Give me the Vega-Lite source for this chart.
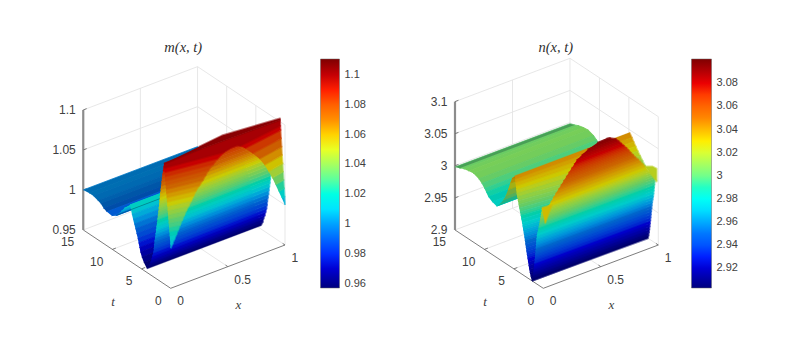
{"$schema":"https://vega.github.io/schema/vega-lite/v6.json","width":802,"height":351,"padding":0,"autosize":{"type":"fit","contains":"padding"},"background":"white","config":{"view":{"stroke":null}},
"data":{"values":[
{"p":"m","g":"grid","i":201,"x":[0,1,1],"t":[15,15,0],"z":[0.95,0.95,0.95]},
{"p":"m","g":"grid","i":202,"x":[0,1,1],"t":[15,15,0],"z":[1,1,1]},
{"p":"m","g":"grid","i":203,"x":[0,1,1],"t":[15,15,0],"z":[1.05,1.05,1.05]},
{"p":"m","g":"grid","i":204,"x":[0,1,1],"t":[15,15,0],"z":[1.1,1.1,1.1]},
{"p":"m","g":"grid","i":205,"x":[0.5,0.5],"t":[15,15],"z":[0.95,1.1]},
{"p":"m","g":"grid","i":206,"x":[1,1],"t":[15,15],"z":[0.95,1.1]},
{"p":"m","g":"grid","i":207,"x":[1,1],"t":[10,10],"z":[0.95,1.1]},
{"p":"m","g":"grid","i":208,"x":[1,1],"t":[5,5],"z":[0.95,1.1]},
{"p":"m","g":"grid","i":209,"x":[1,1],"t":[0,0],"z":[0.95,1.1]},
{"p":"m","g":"grid","i":210,"x":[0.5,0.5],"t":[0,15],"z":[0.95,0.95]},
{"p":"m","g":"grid","i":211,"x":[0,1],"t":[5,5],"z":[0.95,0.95]},
{"p":"m","g":"grid","i":212,"x":[0,1],"t":[10,10],"z":[0.95,0.95]},
{"p":"n","g":"grid","i":221,"x":[0,1,1],"t":[15,15,0],"z":[2.9,2.9,2.9]},
{"p":"n","g":"grid","i":222,"x":[0,1,1],"t":[15,15,0],"z":[2.95,2.95,2.95]},
{"p":"n","g":"grid","i":223,"x":[0,1,1],"t":[15,15,0],"z":[3,3,3]},
{"p":"n","g":"grid","i":224,"x":[0,1,1],"t":[15,15,0],"z":[3.05,3.05,3.05]},
{"p":"n","g":"grid","i":225,"x":[0,1,1],"t":[15,15,0],"z":[3.1,3.1,3.1]},
{"p":"n","g":"grid","i":226,"x":[0.5,0.5],"t":[15,15],"z":[2.9,3.1]},
{"p":"n","g":"grid","i":227,"x":[1,1],"t":[15,15],"z":[2.9,3.1]},
{"p":"n","g":"grid","i":228,"x":[1,1],"t":[10,10],"z":[2.9,3.1]},
{"p":"n","g":"grid","i":229,"x":[1,1],"t":[5,5],"z":[2.9,3.1]},
{"p":"n","g":"grid","i":230,"x":[1,1],"t":[0,0],"z":[2.9,3.1]},
{"p":"n","g":"grid","i":231,"x":[0.5,0.5],"t":[0,15],"z":[2.9,2.9]},
{"p":"n","g":"grid","i":232,"x":[0,1],"t":[5,5],"z":[2.9,2.9]},
{"p":"n","g":"grid","i":233,"x":[0,1],"t":[10,10],"z":[2.9,2.9]},
{"p":"m","g":"az","i":241,"x":[0,0],"t":[15,15],"z":[0.95,1.1]},
{"p":"n","g":"az","i":242,"x":[0,0],"t":[15,15],"z":[2.9,3.1]},
{"p":"m","g":"ax","i":251,"x":[0,1],"t":[0,0],"z":[0.95,0.95]},
{"p":"m","g":"ax","i":252,"x":[0,0],"t":[0,15],"z":[0.95,0.95]},
{"p":"m","g":"ax","i":253,"x":[0.5,0.5],"t":[0,0.4],"z":[0.95,0.95]},
{"p":"m","g":"ax","i":254,"x":[1,1],"t":[0,0.4],"z":[0.95,0.95]},
{"p":"m","g":"ax","i":255,"x":[0,0.03],"t":[5,5],"z":[0.95,0.95]},
{"p":"m","g":"ax","i":256,"x":[0,0.03],"t":[10,10],"z":[0.95,0.95]},
{"p":"m","g":"ax","i":257,"x":[0,0.03],"t":[15,15],"z":[1,1]},
{"p":"m","g":"ax","i":258,"x":[0,0.03],"t":[15,15],"z":[1.05,1.05]},
{"p":"m","g":"ax","i":259,"x":[0,0.03],"t":[15,15],"z":[1.1,1.1]},
{"p":"n","g":"ax","i":261,"x":[0,1],"t":[0,0],"z":[2.9,2.9]},
{"p":"n","g":"ax","i":262,"x":[0,0],"t":[0,15],"z":[2.9,2.9]},
{"p":"n","g":"ax","i":263,"x":[0.5,0.5],"t":[0,0.4],"z":[2.9,2.9]},
{"p":"n","g":"ax","i":264,"x":[1,1],"t":[0,0.4],"z":[2.9,2.9]},
{"p":"n","g":"ax","i":265,"x":[0,0.03],"t":[5,5],"z":[2.9,2.9]},
{"p":"n","g":"ax","i":266,"x":[0,0.03],"t":[10,10],"z":[2.9,2.9]},
{"p":"n","g":"ax","i":267,"x":[0,0.03],"t":[15,15],"z":[2.95,2.95]},
{"p":"n","g":"ax","i":268,"x":[0,0.03],"t":[15,15],"z":[3,3]},
{"p":"n","g":"ax","i":269,"x":[0,0.03],"t":[15,15],"z":[3.05,3.05]},
{"p":"n","g":"ax","i":270,"x":[0,0.03],"t":[15,15],"z":[3.1,3.1]},

{"p":"m","g":"b","i":1,"v":1.0005,"x":[0,1,1,0],"t":[15,15,14,14],"z":[1,1,1.001,1.001]},
{"p":"m","g":"b","i":2,"v":1.001,"x":[0,1,1,0],"t":[14,14,13.3,13.3],"z":[1.001,1.001,1.001,1.001]},
{"p":"m","g":"b","i":3,"v":1,"x":[0,1,1,0],"t":[13.3,13.3,12.5,12.5],"z":[1.001,1.001,0.999,0.999]},
{"p":"m","g":"b","i":4,"v":0.998,"x":[0,1,1,0],"t":[12.5,12.5,12,12],"z":[0.999,0.999,0.9975,0.9975]},
{"p":"m","g":"b","i":5,"v":0.996,"x":[0,1,1,0],"t":[12,12,11.5,11.5],"z":[0.9975,0.9975,0.994,0.994]},
{"p":"m","g":"b","i":6,"v":0.993,"x":[0,1,1,0],"t":[11.5,11.5,11,11],"z":[0.994,0.994,0.9925,0.9925]},
{"p":"m","g":"b","i":7,"v":0.992,"x":[0,1,1,0],"t":[11,11,10.1,10.1],"z":[0.9925,0.9925,0.9916,0.9916]},
{"p":"m","g":"b","i":8,"v":0.993,"x":[0,1,1,0],"t":[10.1,10.1,9.4,9.4],"z":[0.9916,0.9916,0.995,0.995]},
{"p":"m","g":"b","i":9,"v":0.9975,"x":[0,1,1,0],"t":[9.4,9.4,8.9,8.9],"z":[0.995,0.995,1,1]},
{"p":"m","g":"b","i":10,"v":1.0025,"x":[0,1,1,0],"t":[8.9,8.9,8.5,8.5],"z":[1,1,1.005,1.005]},
{"p":"m","g":"b","i":11,"v":1.008,"x":[0,1,1,0],"t":[8.5,8.5,8,8],"z":[1.005,1.005,1.011,1.011]},
{"p":"m","g":"b","i":12,"v":1.016,"x":[0,1,1,0],"t":[8,8,7,7],"z":[1.011,1.011,1.02,1.02]},
{"p":"m","g":"b","i":13,"v":1.0175,"x":[0,1,1,0],"t":[7,7,6.8,6.8],"z":[1.02,1.02,1.015,1.015]},
{"p":"m","g":"b","i":14,"v":1.0125,"x":[0,1,1,0],"t":[6.8,6.8,6.65,6.65],"z":[1.015,1.015,1.01,1.01]},
{"p":"m","g":"b","i":15,"v":1.0075,"x":[0,1,1,0],"t":[6.65,6.65,6.45,6.45],"z":[1.01,1.01,1.005,1.005]},
{"p":"m","g":"b","i":16,"v":1.0025,"x":[0,1,1,0],"t":[6.45,6.45,6.25,6.25],"z":[1.005,1.005,1,1]},
{"p":"m","g":"b","i":17,"v":0.9975,"x":[0,1,1,0],"t":[6.25,6.25,6.05,6.05],"z":[1,1,0.995,0.995]},
{"p":"m","g":"b","i":18,"v":0.9925,"x":[0,1,1,0],"t":[6.05,6.05,5.85,5.85],"z":[0.995,0.995,0.99,0.99]},
{"p":"m","g":"b","i":19,"v":0.9875,"x":[0,1,1,0],"t":[5.85,5.85,5.65,5.65],"z":[0.99,0.99,0.985,0.985]},
{"p":"m","g":"b","i":20,"v":0.9825,"x":[0,1,1,0],"t":[5.65,5.65,5.5,5.5],"z":[0.985,0.985,0.98,0.98]},
{"p":"m","g":"b","i":21,"v":0.9775,"x":[0,1,1,0],"t":[5.5,5.5,5.35,5.35],"z":[0.98,0.98,0.975,0.975]},
{"p":"m","g":"b","i":22,"v":0.9725,"x":[0,1,1,0],"t":[5.35,5.35,5.2,5.2],"z":[0.975,0.975,0.97,0.97]},
{"p":"m","g":"b","i":23,"v":0.9675,"x":[0,1,1,0],"t":[5.2,5.2,4.95,4.95],"z":[0.97,0.97,0.965,0.965]},
{"p":"m","g":"b","i":24,"v":0.9625,"x":[0,1,1,0],"t":[4.95,4.95,4.6,4.6],"z":[0.965,0.965,0.96,0.96]},
{"p":"m","g":"b","i":25,"v":0.9575,"x":[0,1,1,0],"t":[4.6,4.6,4.1,4.1],"z":[0.96,0.96,0.955,0.955]},

{"p":"m","g":"w","i":27,"v":0.9575,"x":[0,1,1,0],"t":[4.1,4.1,3.85,3.75],"z":[0.955,0.955,0.96,0.96]},
{"p":"m","g":"w","i":28,"v":0.9625,"x":[0,1,1,0],"t":[3.75,3.85,3.7,3.5],"z":[0.96,0.96,0.965,0.965]},
{"p":"m","g":"w","i":29,"v":0.9675,"x":[0,1,1,0],"t":[3.5,3.7,3.5,3.3],"z":[0.965,0.965,0.97,0.97]},
{"p":"m","g":"w","i":30,"v":0.9725,"x":[0,1,1,0],"t":[3.3,3.5,3.35,3.15],"z":[0.97,0.97,0.975,0.975]},
{"p":"m","g":"w","i":31,"v":0.9775,"x":[0,1,1,0],"t":[3.15,3.35,3.2,3],"z":[0.975,0.975,0.98,0.98]},
{"p":"m","g":"w","i":32,"v":0.9825,"x":[0,1,1,0],"t":[3,3.2,3.1,2.9],"z":[0.98,0.98,0.985,0.985]},
{"p":"m","g":"w","i":33,"v":0.9875,"x":[0,1,1,0],"t":[2.9,3.1,3.05,2.85],"z":[0.985,0.985,0.99,0.99]},
{"p":"m","g":"w","i":34,"v":0.9925,"x":[0,1,1,0],"t":[2.85,3.05,2.95,2.78],"z":[0.99,0.99,0.995,0.995]},
{"p":"m","g":"w","i":35,"v":0.9975,"x":[0,1,1,0],"t":[2.78,2.95,2.85,2.7],"z":[0.995,0.995,1,1]},
{"p":"m","g":"w","i":36,"v":1.0025,"x":[0,1,1,0],"t":[2.7,2.85,2.78,2.6],"z":[1,1,1.005,1.005]},
{"p":"m","g":"w","i":37,"v":1.0075,"x":[0,1,1,0],"t":[2.6,2.78,2.7,2.52],"z":[1.005,1.005,1.01,1.01]},
{"p":"m","g":"w","i":38,"v":1.0125,"x":[0,1,1,0],"t":[2.52,2.7,2.62,2.44],"z":[1.01,1.01,1.015,1.015]},
{"p":"m","g":"w","i":39,"v":1.0175,"x":[0,1,1,0],"t":[2.44,2.62,2.55,2.35],"z":[1.015,1.015,1.02,1.02]},
{"p":"m","g":"w","i":40,"v":1.0225,"x":[0,1,1,0],"t":[2.35,2.55,2.47,2.28],"z":[1.02,1.02,1.025,1.025]},
{"p":"m","g":"w","i":41,"v":1.0275,"x":[0,1,1,0],"t":[2.28,2.47,2.38,2.2],"z":[1.025,1.025,1.03,1.03]},
{"p":"m","g":"w","i":42,"v":1.0325,"x":[0,1,1,0],"t":[2.2,2.38,2.3,2.12],"z":[1.03,1.03,1.035,1.035]},
{"p":"m","g":"w","i":43,"v":1.0375,"x":[0,1,1,0],"t":[2.12,2.3,2.2,2.05],"z":[1.035,1.035,1.04,1.04]},
{"p":"m","g":"w","i":44,"v":1.0425,"x":[0,1,1,0],"t":[2.05,2.2,2.12,1.98],"z":[1.04,1.04,1.045,1.045]},
{"p":"m","g":"w","i":45,"v":1.0475,"x":[0,1,1,0],"t":[1.98,2.12,2.03,1.92],"z":[1.045,1.045,1.05,1.05]},
{"p":"m","g":"w","i":46,"v":1.0525,"x":[0,1,1,0],"t":[1.92,2.03,1.94,1.86],"z":[1.05,1.05,1.055,1.055]},
{"p":"m","g":"w","i":47,"v":1.0575,"x":[0,1,1,0],"t":[1.86,1.94,1.85,1.8],"z":[1.055,1.055,1.06,1.06]},
{"p":"m","g":"w","i":48,"v":1.0625,"x":[0,1,1,0],"t":[1.8,1.85,1.74,1.72],"z":[1.06,1.06,1.065,1.065]},
{"p":"m","g":"w","i":49,"v":1.0675,"x":[0,1,1,0],"t":[1.72,1.74,1.63,1.65],"z":[1.065,1.065,1.07,1.07]},
{"p":"m","g":"w","i":50,"v":1.0725,"x":[0,1,1,0],"t":[1.65,1.63,1.52,1.58],"z":[1.07,1.07,1.075,1.075]},
{"p":"m","g":"w","i":51,"v":1.0775,"x":[0,1,1,0],"t":[1.58,1.52,1.4,1.5],"z":[1.075,1.075,1.08,1.08]},
{"p":"m","g":"w","i":52,"v":1.0825,"x":[0,1,1,0],"t":[1.5,1.4,1.28,1.42],"z":[1.08,1.08,1.085,1.085]},
{"p":"m","g":"w","i":53,"v":1.0875,"x":[0,1,1,0],"t":[1.42,1.28,1.15,1.33],"z":[1.085,1.085,1.09,1.09]},
{"p":"m","g":"w","i":54,"v":1.0925,"x":[0,1,1,0],"t":[1.33,1.15,1.03,1.24],"z":[1.09,1.09,1.095,1.095]},
{"p":"m","g":"w","i":55,"v":1.0975,"x":[0,1,1,0],"t":[1.24,1.03,0.92,1.15],"z":[1.095,1.095,1.1,1.1]},

{"p":"m","g":"w","i":56,"v":1.009,"x":[0,0,0.016,0],"t":[0,0,0,0.06],"z":[1,1,1.005,1.005]},
{"p":"m","g":"w","i":57,"v":1.012,"x":[0,0.016,0.033,0],"t":[0.06,0,0,0.115],"z":[1.005,1.005,1.01,1.01]},
{"p":"m","g":"w","i":58,"v":1.0165,"x":[0,0.033,0.05,0],"t":[0.115,0,0,0.17],"z":[1.01,1.01,1.015,1.015]},
{"p":"m","g":"w","i":59,"v":1.02,"x":[0,0.05,0.066,0],"t":[0.17,0,0,0.23],"z":[1.015,1.015,1.02,1.02]},
{"p":"m","g":"w","i":60,"v":1.0245,"x":[0,0.066,0.083,0],"t":[0.23,0,0,0.29],"z":[1.02,1.02,1.025,1.025]},
{"p":"m","g":"w","i":61,"v":1.029,"x":[0,0.083,0.1,0],"t":[0.29,0,0,0.345],"z":[1.025,1.025,1.03,1.03]},
{"p":"m","g":"w","i":62,"v":1.0325,"x":[0,0.1,0.118,0],"t":[0.345,0,0,0.4],"z":[1.03,1.03,1.035,1.035]},
{"p":"m","g":"w","i":63,"v":1.0375,"x":[0,0.118,0.137,0],"t":[0.4,0,0,0.46],"z":[1.035,1.035,1.04,1.04]},
{"p":"m","g":"w","i":64,"v":1.0425,"x":[0,0.137,0.158,0],"t":[0.46,0,0,0.52],"z":[1.04,1.04,1.045,1.045]},
{"p":"m","g":"w","i":65,"v":1.0475,"x":[0,0.158,0.18,0],"t":[0.52,0,0,0.575],"z":[1.045,1.045,1.05,1.05]},
{"p":"m","g":"w","i":66,"v":1.0525,"x":[0,0.18,0.2,0],"t":[0.575,0,0,0.63],"z":[1.05,1.05,1.055,1.055]},
{"p":"m","g":"w","i":67,"v":1.0575,"x":[0,0.2,0.22,0],"t":[0.63,0,0,0.69],"z":[1.055,1.055,1.06,1.06]},
{"p":"m","g":"w","i":68,"v":1.0625,"x":[0,0.22,0.25,0],"t":[0.69,0,0,0.75],"z":[1.06,1.06,1.065,1.065]},
{"p":"m","g":"w","i":69,"v":1.0675,"x":[0,0.25,0.28,0],"t":[0.75,0,0,0.805],"z":[1.065,1.065,1.07,1.07]},
{"p":"m","g":"w","i":70,"v":1.0725,"x":[0,0.28,0.305,0],"t":[0.805,0,0,0.86],"z":[1.07,1.07,1.075,1.075]},
{"p":"m","g":"w","i":71,"v":1.0775,"x":[0,0.305,0.33,0],"t":[0.86,0,0,0.92],"z":[1.075,1.075,1.08,1.08]},
{"p":"m","g":"w","i":72,"v":1.0825,"x":[0,0.33,0.37,0],"t":[0.92,0,0,0.98],"z":[1.08,1.08,1.085,1.085]},
{"p":"m","g":"w","i":73,"v":1.0875,"x":[0,0.37,0.41,0],"t":[0.98,0,0,1.035],"z":[1.085,1.085,1.09,1.09]},
{"p":"m","g":"w","i":74,"v":1.0925,"x":[0,0.41,0.465,0],"t":[1.035,0,0,1.09],"z":[1.09,1.09,1.095,1.095]},
{"p":"m","g":"w","i":77,"v":1.009,"x":[1,1,1,0.973],"t":[0,0,0.086,0],"z":[1,1,1.01,1.01]},
{"p":"m","g":"w","i":78,"v":1.016,"x":[0.973,1,1,0.945],"t":[0,0.086,0.172,0],"z":[1.01,1.01,1.02,1.02]},
{"p":"m","g":"w","i":79,"v":1.025,"x":[0.945,1,1,0.917],"t":[0,0.172,0.258,0],"z":[1.02,1.02,1.03,1.03]},
{"p":"m","g":"w","i":80,"v":1.035,"x":[0.917,1,1,0.888],"t":[0,0.258,0.344,0],"z":[1.03,1.03,1.04,1.04]},
{"p":"m","g":"w","i":81,"v":1.045,"x":[0.888,1,1,0.855],"t":[0,0.344,0.43,0],"z":[1.04,1.04,1.05,1.05]},
{"p":"m","g":"w","i":82,"v":1.055,"x":[0.855,1,1,0.82],"t":[0,0.43,0.516,0],"z":[1.05,1.05,1.06,1.06]},
{"p":"m","g":"w","i":83,"v":1.065,"x":[0.82,1,1,0.776],"t":[0,0.516,0.602,0],"z":[1.06,1.06,1.07,1.07]},
{"p":"m","g":"w","i":84,"v":1.075,"x":[0.776,1,1,0.715],"t":[0,0.602,0.688,0],"z":[1.07,1.07,1.08,1.08]},
{"p":"m","g":"w","i":85,"v":1.085,"x":[0.715,1,1,0.65],"t":[0,0.688,0.774,0],"z":[1.08,1.08,1.09,1.09]},
{"p":"m","g":"w","i":86,"v":1.0925,"x":[0.65,1,1,0.61],"t":[0,0.774,0.817,0],"z":[1.09,1.09,1.095,1.095]},
{"p":"m","g":"w","i":75,"v":1.099,"x":[0,0.465,0.53,0.58,0.61,1,1,0.5,0.3,0],"t":[1.09,0,0,0,0,0.817,0.86,1,1.05,1.15],"z":[1.095,1.095,1.097,1.097,1.095,1.095,1.102,1.102,1.102,1.1]},
{"p":"m","g":"w","i":76,"v":1.105,"x":[0,0.3,0.5,1,1,0.5,0.3],"t":[1.15,1.05,1,0.86,0.86,1,1.05],"z":[1.1,1.102,1.102,1.102,1.104,1.109,1.1055]},

{"p":"n","g":"b","i":101,"v":3,"x":[0,1,1,0],"t":[15,15,14.2,14.2],"z":[2.998,2.998,3.001,3.001]},
{"p":"n","g":"b","i":117,"v":3.0025,"x":[0,1,1,0],"t":[14.2,14.2,13.5,13.5],"z":[3.001,3.001,3.004,3.004]},
{"p":"n","g":"b","i":102,"v":3.005,"x":[0,1,1,0],"t":[13.5,13.5,12.7,12.7],"z":[3.004,3.004,3.006,3.006]},
{"p":"n","g":"b","i":118,"v":3.0065,"x":[0,1,1,0],"t":[12.7,12.7,11.9,11.9],"z":[3.006,3.006,3.007,3.007]},
{"p":"n","g":"b","i":103,"v":3.0055,"x":[0,1,1,0],"t":[11.9,11.9,11,11],"z":[3.007,3.007,3.004,3.004]},
{"p":"n","g":"b","i":104,"v":3.002,"x":[0,1,1,0],"t":[11,11,10.46,10.46],"z":[3.004,3.004,3,3]},
{"p":"n","g":"b","i":105,"v":2.9975,"x":[0,1,1,0],"t":[10.46,10.46,10,10],"z":[3,3,2.995,2.995]},
{"p":"n","g":"b","i":106,"v":2.993,"x":[0,1,1,0],"t":[10,10,9.7,9.7],"z":[2.995,2.995,2.991,2.991]},
{"p":"n","g":"b","i":107,"v":2.9885,"x":[0,1,1,0],"t":[9.7,9.7,9.34,9.34],"z":[2.991,2.991,2.986,2.986]},
{"p":"n","g":"b","i":108,"v":2.984,"x":[0,1,1,0],"t":[9.34,9.34,8.7,8.7],"z":[2.986,2.986,2.982,2.982]},
{"p":"n","g":"b","i":109,"v":2.981,"x":[0,1,1,0],"t":[8.7,8.7,7.92,7.92],"z":[2.982,2.982,2.98,2.98]},
{"p":"n","g":"b","i":110,"v":2.983,"x":[0,1,1,0],"t":[7.92,7.92,7.4,7.4],"z":[2.98,2.98,2.986,2.986]},
{"p":"n","g":"b","i":111,"v":2.991,"x":[0,1,1,0],"t":[7.4,7.4,6.8,6.8],"z":[2.986,2.986,2.9965,2.9965]},
{"p":"n","g":"b","i":112,"v":3.001,"x":[0,1,1,0],"t":[6.8,6.8,6.4,6.4],"z":[2.9965,2.9965,3.005,3.005]},
{"p":"n","g":"b","i":113,"v":3.011,"x":[0,1,1,0],"t":[6.4,6.4,6,6],"z":[3.005,3.005,3.017,3.017]},
{"p":"n","g":"b","i":114,"v":3.0235,"x":[0,1,1,0],"t":[6,6,5.6,5.6],"z":[3.017,3.017,3.03,3.03]},
{"p":"n","g":"b","i":115,"v":3.0345,"x":[0,1,1,0],"t":[5.6,5.6,5.32,5.32],"z":[3.03,3.03,3.039,3.039]},
{"p":"n","g":"b","i":116,"v":3.042,"x":[0,1,1,0],"t":[5.32,5.32,4.85,4.85],"z":[3.039,3.039,3.045,3.045]},

{"p":"n","g":"w","i":121,"v":3.0425,"x":[0,1,1,0],"t":[4.85,4.85,4.5,4.78],"z":[3.045,3.045,3.04,3.04]},
{"p":"n","g":"w","i":122,"v":3.0375,"x":[0,1,1,0],"t":[4.78,4.5,4.2,4.72],"z":[3.04,3.04,3.035,3.035]},
{"p":"n","g":"w","i":123,"v":3.0325,"x":[0,1,1,0],"t":[4.72,4.2,3.85,4.65],"z":[3.035,3.035,3.03,3.03]},
{"p":"n","g":"w","i":124,"v":3.0275,"x":[0,1,1,0],"t":[4.65,3.85,3.5,4.58],"z":[3.03,3.03,3.025,3.025]},
{"p":"n","g":"w","i":125,"v":3.0225,"x":[0,1,1,0],"t":[4.58,3.5,3.1,4.52],"z":[3.025,3.025,3.02,3.02]},
{"p":"n","g":"w","i":126,"v":3.0175,"x":[0,1,1,0],"t":[4.52,3.1,2.7,4.42],"z":[3.02,3.02,3.015,3.015]},
{"p":"n","g":"w","i":127,"v":3.0125,"x":[0,1,1,0],"t":[4.42,2.7,2.3,4.3],"z":[3.015,3.015,3.01,3.01]},
{"p":"n","g":"w","i":128,"v":3.0075,"x":[0,1,1,0],"t":[4.3,2.3,2.28,4.18],"z":[3.01,3.01,3.005,3.005]},
{"p":"n","g":"w","i":129,"v":3.0025,"x":[0,1,1,0],"t":[4.18,2.28,2.26,4.07],"z":[3.005,3.005,3,3]},
{"p":"n","g":"w","i":130,"v":2.9975,"x":[0,1,1,0],"t":[4.07,2.26,2.25,3.95],"z":[3,3,2.995,2.995]},
{"p":"n","g":"w","i":131,"v":2.9925,"x":[0,1,1,0],"t":[3.95,2.25,2.25,3.83],"z":[2.995,2.995,2.99,2.99]},
{"p":"n","g":"w","i":132,"v":2.9875,"x":[0,1,1,0],"t":[3.83,2.25,2.25,3.72],"z":[2.99,2.99,2.985,2.985]},
{"p":"n","g":"w","i":133,"v":2.9825,"x":[0,1,1,0],"t":[3.72,2.25,2.25,3.6],"z":[2.985,2.985,2.98,2.98]},
{"p":"n","g":"w","i":134,"v":2.9775,"x":[0,1,1,0],"t":[3.6,2.25,2.25,3.5],"z":[2.98,2.98,2.975,2.975]},
{"p":"n","g":"w","i":135,"v":2.9725,"x":[0,1,1,0],"t":[3.5,2.25,2.25,3.4],"z":[2.975,2.975,2.97,2.97]},
{"p":"n","g":"w","i":136,"v":2.9675,"x":[0,1,1,0],"t":[3.4,2.25,2.25,3.3],"z":[2.97,2.97,2.965,2.965]},
{"p":"n","g":"w","i":137,"v":2.9625,"x":[0,1,1,0],"t":[3.3,2.25,2.25,3.2],"z":[2.965,2.965,2.96,2.96]},
{"p":"n","g":"w","i":138,"v":2.9575,"x":[0,1,1,0],"t":[3.2,2.25,2.25,3.12],"z":[2.96,2.96,2.955,2.955]},
{"p":"n","g":"w","i":139,"v":2.9525,"x":[0,1,1,0],"t":[3.12,2.25,2.25,3.03],"z":[2.955,2.955,2.95,2.95]},
{"p":"n","g":"w","i":140,"v":2.9475,"x":[0,1,1,0],"t":[3.03,2.25,2.25,2.94],"z":[2.95,2.95,2.945,2.945]},
{"p":"n","g":"w","i":141,"v":2.9425,"x":[0,1,1,0],"t":[2.94,2.25,2.25,2.86],"z":[2.945,2.945,2.94,2.94]},
{"p":"n","g":"w","i":142,"v":2.9375,"x":[0,1,1,0],"t":[2.86,2.25,2.25,2.77],"z":[2.94,2.94,2.935,2.935]},
{"p":"n","g":"w","i":143,"v":2.9325,"x":[0,1,1,0],"t":[2.77,2.25,2.25,2.67],"z":[2.935,2.935,2.93,2.93]},
{"p":"n","g":"w","i":144,"v":2.9275,"x":[0,1,1,0],"t":[2.67,2.25,2.25,2.57],"z":[2.93,2.93,2.925,2.925]},
{"p":"n","g":"w","i":145,"v":2.9225,"x":[0,1,1,0],"t":[2.57,2.25,2.25,2.48],"z":[2.925,2.925,2.92,2.92]},
{"p":"n","g":"w","i":146,"v":2.9175,"x":[0,1,1,0],"t":[2.48,2.25,2.25,2.38],"z":[2.92,2.92,2.915,2.915]},
{"p":"n","g":"w","i":147,"v":2.9125,"x":[0,1,1,0],"t":[2.38,2.25,2.25,2.27],"z":[2.915,2.915,2.91,2.91]},
{"p":"n","g":"w","i":148,"v":2.9075,"x":[0,1,1,0],"t":[2.27,2.25,2.13,2.13],"z":[2.91,2.91,2.905,2.905]},
{"p":"n","g":"w","i":149,"v":2.9025,"x":[0,1,1,0],"t":[2.13,2.13,1.95,1.95],"z":[2.905,2.905,2.9,2.9]},

{"p":"n","g":"w","i":151,"v":2.9025,"x":[0,1,1,0],"t":[1.95,1.75,1.68,1.85],"z":[2.9,2.9,2.905,2.905]},
{"p":"n","g":"w","i":152,"v":2.9075,"x":[0,1,1,0],"t":[1.85,1.68,1.6,1.78],"z":[2.905,2.905,2.91,2.91]},
{"p":"n","g":"w","i":153,"v":2.9125,"x":[0,1,1,0],"t":[1.78,1.6,1.54,1.7],"z":[2.91,2.91,2.915,2.915]},
{"p":"n","g":"w","i":154,"v":2.9175,"x":[0,1,1,0],"t":[1.7,1.54,1.48,1.64],"z":[2.915,2.915,2.92,2.92]},
{"p":"n","g":"w","i":155,"v":2.9225,"x":[0,1,1,0],"t":[1.64,1.48,1.42,1.58],"z":[2.92,2.92,2.925,2.925]},
{"p":"n","g":"w","i":156,"v":2.9275,"x":[0,1,1,0],"t":[1.58,1.42,1.37,1.52],"z":[2.925,2.925,2.93,2.93]},
{"p":"n","g":"w","i":157,"v":2.9325,"x":[0,1,1,0],"t":[1.52,1.37,1.32,1.47],"z":[2.93,2.93,2.935,2.935]},
{"p":"n","g":"w","i":158,"v":2.9375,"x":[0,1,1,0],"t":[1.47,1.32,1.27,1.42],"z":[2.935,2.935,2.94,2.94]},
{"p":"n","g":"w","i":159,"v":2.9425,"x":[0,1,1,0],"t":[1.42,1.27,1.22,1.37],"z":[2.94,2.94,2.945,2.945]},
{"p":"n","g":"w","i":160,"v":2.9475,"x":[0,1,1,0],"t":[1.37,1.22,1.17,1.32],"z":[2.945,2.945,2.95,2.95]},
{"p":"n","g":"w","i":161,"v":2.9525,"x":[0,1,1,0],"t":[1.32,1.17,1.12,1.28],"z":[2.95,2.95,2.955,2.955]},
{"p":"n","g":"w","i":162,"v":2.9575,"x":[0,1,1,0],"t":[1.28,1.12,1.05,1.23],"z":[2.955,2.955,2.96,2.96]},
{"p":"n","g":"w","i":163,"v":2.9625,"x":[0,1,1,0],"t":[1.23,1.05,0.98,1.19],"z":[2.96,2.96,2.965,2.965]},
{"p":"n","g":"w","i":164,"v":2.9675,"x":[0,1,1,0],"t":[1.19,0.98,0.88,1.15],"z":[2.965,2.965,2.97,2.97]},
{"p":"n","g":"w","i":165,"v":2.9725,"x":[0,1,1,0],"t":[1.15,0.88,0.83,1.1],"z":[2.97,2.97,2.975,2.975]},
{"p":"n","g":"w","i":166,"v":2.9775,"x":[0,1,1,0],"t":[1.1,0.83,0.78,1],"z":[2.975,2.975,2.98,2.98]},
{"p":"n","g":"w","i":167,"v":2.9825,"x":[0,1,1,0],"t":[1,0.78,0.73,0.9],"z":[2.98,2.98,2.985,2.985]},
{"p":"n","g":"w","i":168,"v":2.9875,"x":[0,1,1,0],"t":[0.9,0.73,0.68,0.8],"z":[2.985,2.985,2.99,2.99]},
{"p":"n","g":"w","i":169,"v":2.9925,"x":[0,1,1,0],"t":[0.8,0.68,0.63,0.7],"z":[2.99,2.99,2.995,2.995]},
{"p":"n","g":"w","i":170,"v":2.9975,"x":[0,1,1,0],"t":[0.7,0.63,0.58,0.6],"z":[2.995,2.995,3,3]},
{"p":"n","g":"w","i":171,"v":3.0025,"x":[0,1,0.985,0],"t":[0.6,0.58,0.45,0.52],"z":[3,3,3.005,3.005]},
{"p":"n","g":"w","i":172,"v":3.0075,"x":[0,0.985,0.97,0],"t":[0.52,0.45,0.3,0.42],"z":[3.005,3.005,3.01,3.01]},
{"p":"n","g":"w","i":173,"v":3.0125,"x":[0,0.97,0.945,0],"t":[0.42,0.3,0.15,0.34],"z":[3.01,3.01,3.015,3.015]},
{"p":"n","g":"w","i":174,"v":3.0175,"x":[0,0.945,0.92,0],"t":[0.34,0.15,0,0.27],"z":[3.015,3.015,3.02,3.02]},
{"p":"n","g":"w","i":175,"v":3.0225,"x":[0,0.92,0.9,0.045],"t":[0.27,0,0,0],"z":[3.02,3.02,3.025,3.025]},
{"p":"n","g":"w","i":176,"v":3.0275,"x":[0.045,0.9,0.884,0.065],"t":[0,0,0,0],"z":[3.025,3.025,3.03,3.03]},
{"p":"n","g":"w","i":177,"v":3.0325,"x":[0.065,0.884,0.864,0.085],"t":[0,0,0,0],"z":[3.03,3.03,3.035,3.035]},
{"p":"n","g":"w","i":178,"v":3.0375,"x":[0.085,0.864,0.844,0.107],"t":[0,0,0,0],"z":[3.035,3.035,3.04,3.04]},
{"p":"n","g":"w","i":179,"v":3.0425,"x":[0.107,0.844,0.824,0.13],"t":[0,0,0,0],"z":[3.04,3.04,3.045,3.045]},
{"p":"n","g":"w","i":180,"v":3.0475,"x":[0.13,0.824,0.8,0.152],"t":[0,0,0,0],"z":[3.045,3.045,3.05,3.05]},
{"p":"n","g":"w","i":181,"v":3.0525,"x":[0.152,0.8,0.78,0.175],"t":[0,0,0,0],"z":[3.05,3.05,3.055,3.055]},
{"p":"n","g":"w","i":182,"v":3.0575,"x":[0.175,0.78,0.76,0.198],"t":[0,0,0,0],"z":[3.055,3.055,3.06,3.06]},
{"p":"n","g":"w","i":183,"v":3.0625,"x":[0.198,0.76,0.742,0.22],"t":[0,0,0,0],"z":[3.06,3.06,3.065,3.065]},
{"p":"n","g":"w","i":184,"v":3.0675,"x":[0.22,0.742,0.722,0.243],"t":[0,0,0,0],"z":[3.065,3.065,3.07,3.07]},
{"p":"n","g":"w","i":185,"v":3.0725,"x":[0.243,0.722,0.7,0.267],"t":[0,0,0,0],"z":[3.07,3.07,3.075,3.075]},
{"p":"n","g":"w","i":186,"v":3.0775,"x":[0.267,0.7,0.676,0.29],"t":[0,0,0,0],"z":[3.075,3.075,3.08,3.08]},
{"p":"n","g":"w","i":187,"v":3.0825,"x":[0.29,0.676,0.655,0.335],"t":[0,0,0,0],"z":[3.08,3.08,3.085,3.085]},
{"p":"n","g":"w","i":188,"v":3.0875,"x":[0.335,0.655,0.63,0.385],"t":[0,0,0,0],"z":[3.085,3.085,3.09,3.09]},
{"p":"n","g":"w","i":189,"v":3.0925,"x":[0.385,0.63,0.58,0.47],"t":[0,0,0,0],"z":[3.09,3.09,3.095,3.095]},
{"p":"n","g":"w","i":190,"v":3.096,"x":[0.47,0.58,0.55],"t":[0,0,0],"z":[3.095,3.095,3.0965]},
{"p":"n","g":"w","i":191,"v":3.022,"x":[0.884,0.95,0.985,0.985,0.92],"t":[0,0,0,0,0],"z":[3.03,3.0256,3.02,3,3.02]},
{"p":"n","g":"w","i":192,"v":3.031,"x":[0,0.073,0.015],"t":[0.27,0,0],"z":[3.0235,3.0248,3]},

{"p":"m","g":"xl","label":"0","x":[0],"t":[0],"z":[0.95]},
{"p":"m","g":"xl","label":"0.5","x":[0.5],"t":[0],"z":[0.95]},
{"p":"m","g":"xl","label":"1","x":[1],"t":[0],"z":[0.95]},
{"p":"n","g":"xl","label":"0","x":[0],"t":[0],"z":[2.9]},
{"p":"n","g":"xl","label":"0.5","x":[0.5],"t":[0],"z":[2.9]},
{"p":"n","g":"xl","label":"1","x":[1],"t":[0],"z":[2.9]},
{"p":"m","g":"tl","label":"0","x":[0],"t":[0],"z":[0.95]},
{"p":"m","g":"tl","label":"5","x":[0],"t":[5],"z":[0.95]},
{"p":"m","g":"tl","label":"10","x":[0],"t":[10],"z":[0.95]},
{"p":"m","g":"tl","label":"15","x":[0],"t":[15],"z":[0.95]},
{"p":"n","g":"tl","label":"0","x":[0],"t":[0],"z":[2.9]},
{"p":"n","g":"tl","label":"5","x":[0],"t":[5],"z":[2.9]},
{"p":"n","g":"tl","label":"10","x":[0],"t":[10],"z":[2.9]},
{"p":"n","g":"tl","label":"15","x":[0],"t":[15],"z":[2.9]},
{"p":"m","g":"zl","label":"0.95","x":[0],"t":[15],"z":[0.95]},
{"p":"m","g":"zl","label":"1","x":[0],"t":[15],"z":[1]},
{"p":"m","g":"zl","label":"1.05","x":[0],"t":[15],"z":[1.05]},
{"p":"m","g":"zl","label":"1.1","x":[0],"t":[15],"z":[1.1]},
{"p":"n","g":"zl","label":"2.9","x":[0],"t":[15],"z":[2.9]},
{"p":"n","g":"zl","label":"2.95","x":[0],"t":[15],"z":[2.95]},
{"p":"n","g":"zl","label":"3","x":[0],"t":[15],"z":[3]},
{"p":"n","g":"zl","label":"3.05","x":[0],"t":[15],"z":[3.05]},
{"p":"n","g":"zl","label":"3.1","x":[0],"t":[15],"z":[3.1]},
{"p":"m","g":"xn","label":"x","x":[0.5],"t":[0],"z":[0.95]},
{"p":"n","g":"xn","label":"x","x":[0.5],"t":[0],"z":[2.9]},
{"p":"m","g":"tn","label":"t","x":[0],"t":[7.5],"z":[0.95]},
{"p":"n","g":"tn","label":"t","x":[0],"t":[7.5],"z":[2.9]},
{"p":"m","g":"ti","label":"m(x, t)","x":[1],"t":[15],"z":[1.1]},
{"p":"n","g":"ti","label":"n(x, t)","x":[1],"t":[15],"z":[3.087]}
]},
"transform":[
{"flatten":["x","t","z"]},
{"calculate":"datum.p=='m'?170.7+114.3*datum.x-5.83*datum.t:543.3+115*datum.x-5.887*datum.t","as":"sx"},
{"calculate":"288.3-43.3*datum.x-3.89*datum.t-(datum.p=='m'?800*(datum.z-0.95):641.7*(datum.z-2.9))","as":"sy"}
],
"encoding":{
"x":{"field":"sx","type":"quantitative","axis":null,"scale":{"domain":[0,802],"nice":false,"zero":false}},
"y":{"field":"sy","type":"quantitative","axis":null,"scale":{"domain":[351,0],"nice":false,"zero":false}}
},
"layer":[
{"transform":[{"filter":"datum.g=='grid'"}],"mark":{"type":"line","stroke":"#e4e4e4","strokeWidth":0.9},"encoding":{"detail":{"field":"i"},"order":{"value":null}}},
{"transform":[{"filter":"datum.g=='az'"}],"mark":{"type":"line","stroke":"#8c8c8c","strokeWidth":2.2},"encoding":{"detail":{"field":"i"},"order":{"value":null}}},
{"transform":[{"filter":"datum.g=='ax'"}],"mark":{"type":"line","stroke":"#6e6e6e","strokeWidth":0.9},"encoding":{"detail":{"field":"i"},"order":{"value":null}}},
{"transform":[{"filter":"datum.p=='m'&&datum.g=='b'"}],"mark":{"type":"line","filled":true,"strokeWidth":0.8,"strokeJoin":"round"},"encoding":{"detail":{"field":"i"},"order":{"value":null},
"fill":{"field":"v","type":"quantitative","legend":null,"scale":{"domain":[0.9571,0.9763,0.9955,1.0147,1.0339,1.0531,1.0723,1.0915,1.1107],"range":["#00006e","#0000cc","#0066cc","#00cccc","#66cc66","#cccc00","#cc6600","#cc0000","#6e0000"]}},
"stroke":{"field":"v","type":"quantitative","legend":null,"scale":{"domain":[0.9571,0.9763,0.9955,1.0147,1.0339,1.0531,1.0723,1.0915,1.1107],"range":["#00006e","#0000cc","#0066cc","#00cccc","#66cc66","#cccc00","#cc6600","#cc0000","#6e0000"]}}}},
{"transform":[{"filter":"datum.p=='m'&&datum.g=='b'"},{"calculate":"datum.t>=11?0.18:(datum.t>=10.1?0.24:(datum.t>=8.9?0.3:(datum.t>=8.5?0.12:0)))","as":"shade"}],"mark":{"type":"line","filled":true,"fill":"#000000"},"encoding":{"detail":{"field":"i"},"order":{"value":null},"opacity":{"field":"shade","type":"quantitative","scale":null,"legend":null}}},
{"transform":[{"filter":"datum.p=='m'&&datum.g=='w'"}],"mark":{"type":"line","filled":true,"strokeWidth":2,"strokeOpacity":0.55,"strokeJoin":"round"},"encoding":{"detail":{"field":"i"},"order":{"value":null},
"fill":{"field":"v","type":"quantitative","legend":null,"scale":{"domain":[0.9571,0.9763,0.9955,1.0147,1.0339,1.0531,1.0723,1.0915,1.1107],"range":["#00006e","#0000cc","#0066cc","#00cccc","#66cc66","#cccc00","#cc6600","#cc0000","#6e0000"]}},
"stroke":{"field":"v","type":"quantitative","legend":null,"scale":{"domain":[0.9571,0.9763,0.9955,1.0147,1.0339,1.0531,1.0723,1.0915,1.1107],"range":["#00006e","#0000cc","#0066cc","#00cccc","#66cc66","#cccc00","#cc6600","#cc0000","#6e0000"]}}}},
{"transform":[{"filter":"datum.p=='n'&&datum.g=='b'"}],"mark":{"type":"line","filled":true,"strokeWidth":0.8,"strokeJoin":"round"},"encoding":{"detail":{"field":"i"},"order":{"value":null},
"fill":{"field":"v","type":"quantitative","legend":null,"scale":{"domain":[2.903,2.92775,2.9525,2.97725,3.002,3.02675,3.0515,3.07625,3.101],"range":["#00006e","#0000cc","#0066cc","#00cccc","#66cc66","#cccc00","#cc6600","#cc0000","#6e0000"]}},
"stroke":{"field":"v","type":"quantitative","legend":null,"scale":{"domain":[2.903,2.92775,2.9525,2.97725,3.002,3.02675,3.0515,3.07625,3.101],"range":["#00006e","#0000cc","#0066cc","#00cccc","#66cc66","#cccc00","#cc6600","#cc0000","#6e0000"]}}}},
{"transform":[{"filter":"datum.p=='n'&&datum.g=='b'"},{"calculate":"datum.t>=14.2?0.22:(datum.t>=13.5?0.25:(datum.t>=12.7?0.28:(datum.t>=11.9?0.32:(datum.t>=11?0.3:(datum.t>=10.46?0.22:(datum.t>=10?0.14:(datum.t>=9.7?0.07:(datum.t>=7.95?0.02:0.14))))))))","as":"shade"}],"mark":{"type":"line","filled":true,"fill":"#000000"},"encoding":{"detail":{"field":"i"},"order":{"value":null},"opacity":{"field":"shade","type":"quantitative","scale":null,"legend":null}}},
{"transform":[{"filter":"datum.p=='n'&&datum.g=='w'"}],"mark":{"type":"line","filled":true,"strokeWidth":2,"strokeOpacity":0.55,"strokeJoin":"round"},"encoding":{"detail":{"field":"i"},"order":{"value":null},
"fill":{"field":"v","type":"quantitative","legend":null,"scale":{"domain":[2.903,2.92775,2.9525,2.97725,3.002,3.02675,3.0515,3.07625,3.101],"range":["#00006e","#0000cc","#0066cc","#00cccc","#66cc66","#cccc00","#cc6600","#cc0000","#6e0000"]}},
"stroke":{"field":"v","type":"quantitative","legend":null,"scale":{"domain":[2.903,2.92775,2.9525,2.97725,3.002,3.02675,3.0515,3.07625,3.101],"range":["#00006e","#0000cc","#0066cc","#00cccc","#66cc66","#cccc00","#cc6600","#cc0000","#6e0000"]}}}},
{"transform":[{"filter":"false"}],"mark":{"type":"square","opacity":1},"encoding":{"fill":{"field":"v","type":"quantitative","scale":{"domain":[0.9571,0.9763,0.9955,1.0147,1.0339,1.0531,1.0723,1.0915,1.1107],"range":["#00007f","#0000ff","#007fff","#00ffff","#7fff7f","#ffff00","#ff7f00","#ff0000","#7f0000"]},"legend":{"orient":"none","legendX":320.5,"legendY":59,"direction":"vertical","title":null,"gradientLength":229,"gradientThickness":19,"gradientOpacity":1,"values":[0.96,0.98,1,1.02,1.04,1.06,1.08,1.1],"format":".2~f","labelFont":"Liberation Sans","labelFontSize":11,"labelColor":"#404040","labelOffset":5,"labelOverlap":false,"gradientStrokeColor":"#666666","gradientStrokeWidth":0.5}}}},
{"transform":[{"filter":"false"}],"mark":{"type":"square","opacity":1},"encoding":{"fill":{"field":"v","type":"quantitative","scale":{"domain":[2.903,2.92775,2.9525,2.97725,3.002,3.02675,3.0515,3.07625,3.101],"range":["#00007f","#0000ff","#007fff","#00ffff","#7fff7f","#ffff00","#ff7f00","#ff0000","#7f0000"]},"legend":{"orient":"none","legendX":691.5,"legendY":59,"direction":"vertical","title":null,"gradientLength":229,"gradientThickness":20,"gradientOpacity":1,"values":[2.92,2.94,2.96,2.98,3,3.02,3.04,3.06,3.08],"format":".2~f","labelFont":"Liberation Sans","labelFontSize":11,"labelColor":"#404040","labelOffset":5,"labelOverlap":false,"gradientStrokeColor":"#666666","gradientStrokeWidth":0.5}}}},
{"transform":[{"filter":"datum.g=='xl'"}],"mark":{"type":"text","align":"left","baseline":"middle","dx":6.5,"dy":13,"font":"Liberation Sans","fontSize":12,"fill":"#404040"},"encoding":{"text":{"field":"label"}}},
{"transform":[{"filter":"datum.g=='tl'"}],"mark":{"type":"text","align":"right","baseline":"middle","dx":-9,"dy":12.5,"font":"Liberation Sans","fontSize":12,"fill":"#404040"},"encoding":{"text":{"field":"label"}}},
{"transform":[{"filter":"datum.g=='zl'"}],"mark":{"type":"text","align":"right","baseline":"middle","dx":-7.5,"font":"Liberation Sans","fontSize":12,"fill":"#404040"},"encoding":{"text":{"field":"label"}}},
{"transform":[{"filter":"datum.g=='xn'"}],"mark":{"type":"text","align":"center","baseline":"middle","dx":10.5,"dy":38.4,"font":"Liberation Serif","fontStyle":"italic","fontSize":13,"fill":"#404040"},"encoding":{"text":{"field":"label"}}},
{"transform":[{"filter":"datum.g=='tn'"}],"mark":{"type":"text","align":"center","baseline":"middle","dx":-14,"dy":42.6,"font":"Liberation Serif","fontStyle":"italic","fontSize":13,"fill":"#404040"},"encoding":{"text":{"field":"label"}}},
{"transform":[{"filter":"datum.g=='ti'"}],"mark":{"type":"text","align":"center","baseline":"middle","dx":-14.3,"dy":-18.4,"font":"Liberation Serif","fontStyle":"italic","fontSize":14.5,"fill":"#303030"},"encoding":{"text":{"field":"label"}}}
],
"resolve":{"scale":{"fill":"independent","stroke":"independent"},"legend":{"fill":"independent"}}
}
